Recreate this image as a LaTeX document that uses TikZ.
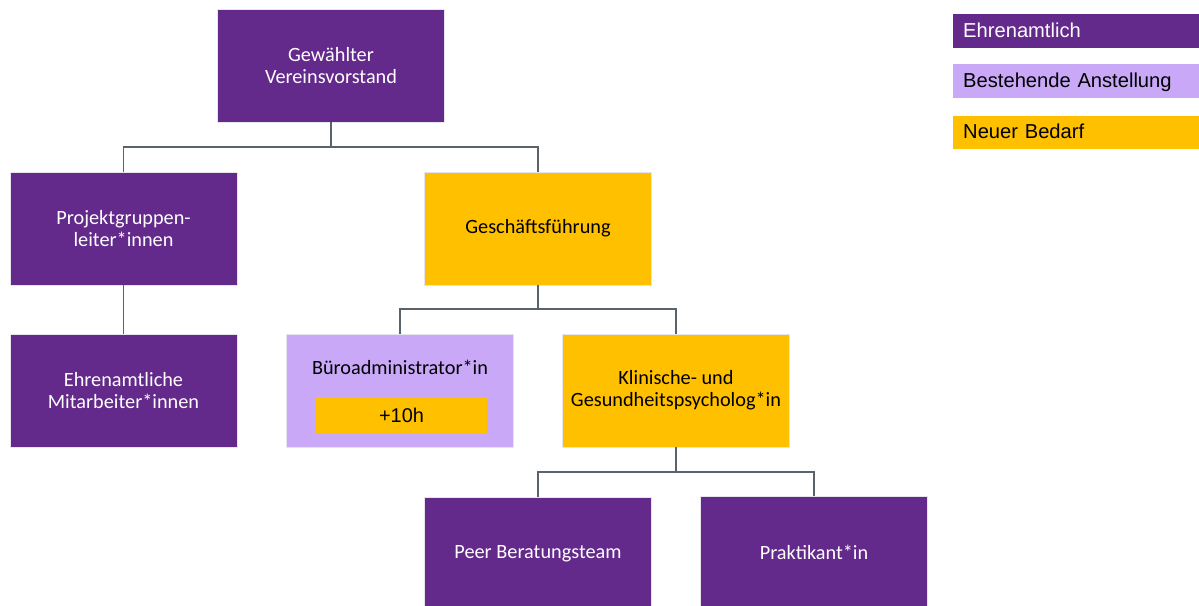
\documentclass[tikz,border=0pt]{standalone}
\usepackage{fontspec}
\setmainfont{Carlito}
\newfontfamily\legendfont{Liberation Sans}
\definecolor{ehrenamt}{HTML}{63298B}
\definecolor{anstellung}{HTML}{C9A8F8}
\definecolor{bedarf}{HTML}{FFC000}
\definecolor{linie}{HTML}{5A626C}
\definecolor{rand}{HTML}{E6E4EC}
\tikzset{
  orgbox/.style={draw=rand, line width=0.5pt, minimum width=6.8cm, minimum height=3.39cm,
    align=center, font=\fontsize{17.3}{19}\selectfont, inner sep=0pt},
  ehrenbox/.style={orgbox, fill=ehrenamt, text=white},
  anstbox/.style={orgbox, fill=anstellung, text=black},
  bedarfbox/.style={orgbox, fill=bedarf, text=black},
  legbox/.style={minimum width=7.5cm, minimum height=1cm, anchor=west, text width=7.3cm,
    text height=1.05em, text depth=0pt,
    font=\legendfont\fontsize{17.2}{19}\selectfont, inner sep=0pt},
  verbinder/.style={draw=linie, line width=1.4pt}
}
\begin{document}
\begin{tikzpicture}[x=0.03cm, y=-0.03cm]
    \useasboundingbox (0,0) rectangle (1199,605);
    % Organigramm
    \node[ehrenbox] (vor) at (331,65.5) {Gewählter\\Vereinsvorstand};
    \node[ehrenbox] (pgl) at (123.5,228.5) {Projektgruppen-\\leiter*innen};
    \node[bedarfbox] (gf) at (538,228.5) {Geschäftsführung};
    \node[ehrenbox] (ehm) at (123.5,390.5) {Ehrenamtliche\\Mitarbeiter*innen};
    \node[anstbox] (bue) at (400,390.5) {};
    \node (buetext) at (400,367) [font=\fontsize{17.3}{19}\selectfont] {Büroadministrator*in};
    \node[fill=bedarf, minimum width=5.13cm, minimum height=1.08cm, font=\legendfont\fontsize{17}{19}\selectfont] (plus) at (401.5,415) {+10h};
    \node[bedarfbox] (kgp) at (676,390.5) {Klinische- und\\Gesundheitspsycholog*in};
    \node[ehrenbox] (peer) at (538,553.5) {Peer Beratungsteam};
    \node[ehrenbox] (prak) at (814,552.5) {Praktikant*in};
    % Verbindungen
    \draw[verbinder] (vor.south) -- ++(0,25) -| (pgl.north);
    \draw[verbinder] (vor.south) -- ++(0,25) -| (gf.north);
    \draw[verbinder] (pgl.south) -- (ehm.north);
    \draw[verbinder] (gf.south) -- ++(0,24) -| (bue.north);
    \draw[verbinder] (gf.south) -- ++(0,24) -| (kgp.north);
    \draw[verbinder] (kgp.south) -- ++(0,25) -| (peer.north);
    \draw[verbinder] (kgp.south) -- ++(0,25) -| (prak.north);
    % Legende
    \node[legbox, fill=ehrenamt, text=white] (leg1) at (953,31) {\hspace*{0.2cm}Ehrenamtlich};
    \node[legbox, fill=anstellung] (leg2) at (953,81) {\hspace*{0.2cm}Bestehende Anstellung};
    \node[legbox, fill=bedarf] (leg3) at (953,132.5) {\hspace*{0.2cm}Neuer Bedarf};
\end{tikzpicture}
\end{document}
